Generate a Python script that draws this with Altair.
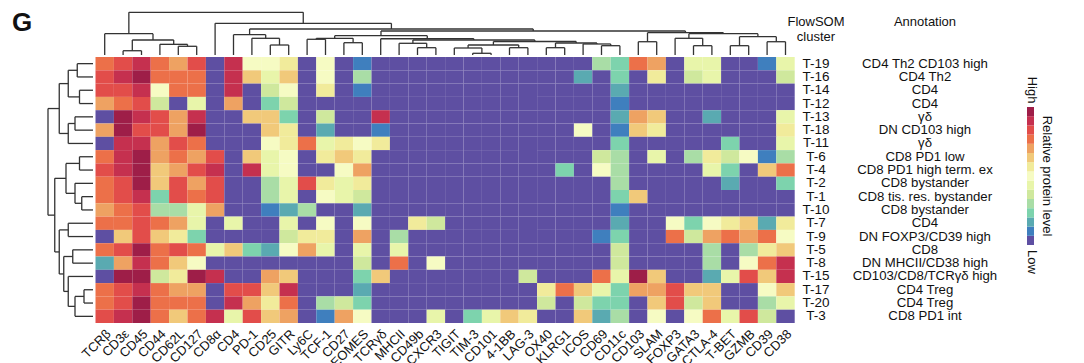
import altair as alt
import pandas as pd

markers = ["TCRβ", "CD3ε", "CD45", "CD44", "CD62L", "CD127", "CD8α", "CD4", "PD-1", "CD25",
           "GITR", "Ly6C", "TCF-1", "CD27", "EOMES", "TCRγδ", "MHCII", "CD49b", "CXCR3", "TIGIT",
           "TIM-3", "CD101", "4-1BB", "LAG-3", "OX40", "KLRG1", "ICOS", "CD69", "CD11c", "CD103",
           "SLAM", "FOXP3", "GATA3", "CTLA-4", "T-BET", "GZMB", "CD39", "CD38"]
clusters = ["T-19", "T-16", "T-14", "T-12", "T-13", "T-18", "T-11", "T-6", "T-4", "T-2",
            "T-1", "T-10", "T-7", "T-9", "T-5", "T-8", "T-15", "T-17", "T-20", "T-3"]
annotations = ["CD4 Th2 CD103 high", "CD4 Th2", "CD4", "CD4", "γδ", "DN CD103 high", "γδ",
               "CD8 PD1 low", "CD8  PD1 high term. ex", "CD8 bystander", "CD8 tis. res. bystander",
               "CD8 bystander", "CD4", "DN FOXP3/CD39 high", "CD8", "DN MHCII/CD38 high",
               "CD103/CD8/TCRγδ high", "CD4 Treg", "CD4 Treg", "CD8 PD1 int"]

# colour steps, low (0) to high (14)
palette = ["#5E4FA2", "#3F7FBE", "#5AAAB1", "#7DD3AD", "#A9DDA6", "#CFE89D", "#E8F5AA",
           "#F6FBC3", "#F1EB9B", "#F1C97A", "#EEA262", "#EC7049", "#E24D4A", "#C5304F", "#9E1E48"]

# relative protein level per cluster (rows) and marker (columns), 0 = low ... 14 = high
levels = [
    [11, 12, 13, 11, 10, 12, 0, 13, 7, 7, 8, 0, 7, 0, 1, 0, 0, 0, 0, 0, 0, 0, 0, 0, 0, 0, 0, 4, 3, 11, 10, 0, 6, 6, 0, 0, 1, 6],
    [12, 13, 14, 11, 11, 11, 0, 13, 9, 6, 9, 0, 7, 0, 4, 0, 0, 0, 0, 0, 0, 0, 0, 0, 0, 0, 2, 0, 3, 0, 8, 0, 5, 6, 0, 0, 0, 5],
    [12, 12, 13, 7, 11, 11, 0, 13, 0, 5, 7, 0, 8, 0, 1, 0, 0, 0, 0, 0, 0, 0, 0, 0, 0, 0, 0, 0, 2, 0, 0, 0, 0, 0, 0, 0, 0, 0],
    [10, 11, 12, 5, 0, 6, 0, 10, 0, 3, 5, 0, 0, 0, 0, 0, 0, 0, 0, 0, 0, 0, 0, 0, 0, 0, 0, 0, 1, 0, 0, 0, 0, 0, 0, 0, 0, 0],
    [0, 14, 13, 12, 10, 13, 0, 0, 9, 9, 3, 0, 5, 0, 0, 13, 0, 0, 0, 0, 0, 0, 0, 0, 0, 0, 0, 0, 2, 10, 9, 0, 0, 2, 0, 0, 0, 6],
    [10, 14, 12, 12, 10, 14, 0, 0, 0, 9, 8, 0, 2, 0, 0, 1, 0, 0, 0, 0, 0, 0, 0, 0, 0, 0, 7, 0, 1, 9, 8, 0, 0, 0, 0, 0, 0, 8],
    [0, 13, 13, 10, 12, 11, 0, 0, 0, 7, 8, 11, 6, 8, 7, 8, 0, 0, 0, 0, 0, 0, 0, 0, 0, 0, 0, 0, 3, 0, 0, 0, 0, 0, 3, 0, 0, 6],
    [11, 13, 14, 10, 11, 10, 12, 0, 9, 6, 7, 0, 8, 9, 8, 0, 0, 0, 0, 0, 0, 0, 0, 0, 0, 0, 0, 5, 4, 0, 6, 0, 4, 8, 5, 7, 1, 4],
    [12, 13, 14, 9, 10, 12, 13, 0, 13, 6, 7, 0, 0, 7, 10, 0, 0, 0, 0, 0, 0, 0, 0, 0, 0, 3, 0, 7, 4, 0, 0, 0, 0, 6, 3, 0, 9, 11],
    [11, 12, 14, 9, 12, 10, 12, 0, 0, 4, 6, 12, 8, 6, 8, 0, 0, 0, 0, 0, 0, 0, 0, 0, 0, 0, 0, 0, 4, 0, 0, 0, 0, 0, 2, 0, 0, 3],
    [11, 12, 13, 3, 12, 11, 12, 0, 0, 4, 6, 0, 7, 6, 5, 0, 0, 0, 0, 0, 0, 0, 0, 0, 0, 0, 0, 0, 3, 9, 0, 0, 0, 0, 0, 0, 0, 0],
    [10, 11, 12, 4, 4, 6, 10, 0, 0, 1, 2, 4, 0, 0, 2, 0, 0, 0, 0, 0, 0, 0, 0, 0, 0, 0, 0, 0, 1, 0, 0, 0, 0, 0, 0, 0, 0, 0],
    [11, 11, 12, 11, 10, 6, 0, 6, 0, 0, 6, 0, 7, 0, 7, 0, 0, 8, 5, 0, 0, 0, 0, 0, 0, 0, 0, 0, 2, 0, 0, 7, 3, 7, 8, 9, 2, 8],
    [0, 9, 12, 9, 8, 3, 0, 0, 0, 0, 5, 8, 8, 0, 10, 0, 4, 0, 0, 0, 0, 0, 0, 0, 0, 0, 0, 1, 3, 0, 0, 11, 5, 10, 11, 10, 11, 7],
    [11, 12, 14, 11, 12, 11, 6, 9, 3, 2, 7, 10, 6, 0, 6, 0, 6, 0, 0, 0, 0, 0, 0, 0, 0, 0, 0, 0, 5, 0, 0, 0, 0, 4, 0, 4, 8, 9],
    [2, 10, 13, 11, 9, 7, 0, 0, 0, 0, 0, 0, 0, 0, 5, 0, 11, 0, 7, 0, 0, 0, 0, 0, 0, 0, 0, 0, 5, 0, 0, 0, 0, 4, 0, 7, 11, 13],
    [0, 14, 14, 5, 8, 14, 13, 0, 0, 10, 9, 0, 0, 0, 3, 9, 0, 0, 0, 0, 0, 0, 0, 5, 0, 0, 0, 11, 6, 14, 9, 0, 0, 2, 6, 12, 9, 13],
    [11, 12, 13, 11, 10, 10, 0, 12, 12, 9, 13, 0, 0, 0, 2, 0, 0, 0, 0, 0, 0, 0, 0, 0, 8, 11, 9, 6, 3, 10, 10, 12, 9, 9, 0, 0, 7, 9],
    [11, 12, 14, 11, 11, 11, 0, 13, 10, 8, 11, 0, 4, 5, 3, 0, 0, 0, 0, 0, 0, 0, 0, 0, 5, 0, 5, 3, 3, 0, 9, 12, 5, 9, 0, 0, 4, 6],
    [12, 13, 14, 11, 9, 11, 13, 6, 12, 9, 10, 0, 1, 10, 7, 0, 0, 0, 6, 0, 3, 6, 9, 8, 0, 0, 9, 2, 4, 0, 7, 0, 7, 11, 6, 12, 5, 0],
]

# ---------- dendrograms: (left, right, merge height 0..1) ----------
c_left = ("TCRβ", (("CD3ε", "CD45", 0.10), ("CD44", ("CD62L", "CD127", 0.204), 0.25), 0.351), 0.499)
c_cd4 = ("CD4", ("PD-1", ("CD25", "GITR", 0.234), 0.391), 0.475)
c_a = (("Ly6C", "TCF-1", 0.368), ("CD27", "EOMES", 0.288), 0.391)
c_b3 = ("MHCII", ("CD49b", "CXCR3", 0.171), 0.274)
c_b4 = (("TIGIT", ("TIM-3", "CD101", 0.04), 0.164), ("4-1BB", "LAG-3", 0.171), 0.234)
c_b5 = (("OX40", "KLRG1", 0.171), ("ICOS", ("CD69", "CD11c", 0.218), 0.258), 0.281)
c_b = ("TCRγδ", (c_b3, (c_b4, c_b5, 0.316), 0.351), 0.38)
c_z1 = (c_a, c_b, 0.452)
c_z2 = (("CD103", "SLAM", 0.311),
        (("FOXP3", ("GATA3", "CTLA-4", 0.218), 0.391),
         (("T-BET", "GZMB", 0.218), ("CD39", "CD38", 0.311), 0.429), 0.499), 0.522)
col_tree = (c_left, ("CD8α", (c_cd4, (c_z1, c_z2, 0.562), 0.609), 0.742), 1.0)

r_top = ((("T-19", "T-16", 0.35), ("T-14", "T-12", 0.30), 0.55), (("T-13", "T-18", 0.40), "T-11", 0.55), 0.75)
r_mid = (("T-6", "T-4", 0.30), ("T-2", ("T-1", "T-10", 0.25), 0.40), 0.60)
r_bot = (("T-7", "T-9", 0.55), (("T-5", "T-8", 0.45), ("T-15", (("T-17", "T-20", 0.20), "T-3", 0.40), 0.55), 0.65), 0.75)
row_tree = (r_top, (r_mid, r_bot, 0.85), 1.0)


def dendro_segments(tree, order):
    segs = []

    def walk(node):
        if isinstance(node, str):
            return order.index(node) + 0.5, 0.0
        left, right, h = node
        xl, hl = walk(left)
        xr, hr = walk(right)
        segs.append((xl, hl, xl, h))
        segs.append((xr, hr, xr, h))
        segs.append((xl, h, xr, h))
        return (xl + xr) / 2, h

    walk(tree)
    return segs


# ---------- geometry (in cell units) ----------
W, H = 1068, 355
CW, RH = 18.4, 13.3          # cell size in px
X0, Y0 = 87.5, 49.0          # heatmap origin in chart px
XS = alt.Scale(domain=[-X0 / CW, (W - X0) / CW], nice=False, zero=False)
YS = alt.Scale(domain=[-Y0 / RH, (H - Y0) / RH], nice=False, zero=False, reverse=True)
CS = alt.Scale(domain=list(range(len(palette))), range=palette)
FONT = "Liberation Sans"
INK = "#111111"

cells = pd.DataFrame([
    {"x": j, "x2": j + 1, "y": i, "y2": i + 1, "level": v, "marker": markers[j], "cluster": clusters[i]}
    for i, row in enumerate(levels) for j, v in enumerate(row)
])
heat = alt.Chart(cells).mark_rect().encode(
    x=alt.X("x:Q", scale=XS, axis=None), x2="x2:Q",
    y=alt.Y("y:Q", scale=YS, axis=None), y2="y2:Q",
    color=alt.Color("level:Q", scale=CS, legend=None),
)

# top dendrogram (leaves at heatmap top, root near the top edge)
top_leaf, top_root = -2.0 / RH, -(49 - 4.3) / RH
cseg = pd.DataFrame([
    {"x": a, "y": top_leaf + (top_root - top_leaf) * b, "x2": c, "y2": top_leaf + (top_root - top_leaf) * d}
    for a, b, c, d in dendro_segments(col_tree, markers)
])
col_dend = alt.Chart(cseg).mark_rule(color="#333333", strokeWidth=1.3).encode(
    x=alt.X("x:Q", scale=XS, axis=None), x2="x2:Q",
    y=alt.Y("y:Q", scale=YS, axis=None), y2="y2:Q")

# left dendrogram
left_leaf, left_root = -2.5 / CW, -(87.5 - 40) / CW
rseg = pd.DataFrame([
    {"y": a, "x": left_leaf + (left_root - left_leaf) * b, "y2": c, "x2": left_leaf + (left_root - left_leaf) * d}
    for a, b, c, d in dendro_segments(row_tree, clusters)
])
row_dend = alt.Chart(rseg).mark_rule(color="#333333", strokeWidth=1.3).encode(
    x=alt.X("x:Q", scale=XS, axis=None), x2="x2:Q",
    y=alt.Y("y:Q", scale=YS, axis=None), y2="y2:Q")

# column labels
clab = pd.DataFrame({"x": [j + 0.5 + 4.0 / CW for j in range(len(markers))], "t": markers})
col_labels = alt.Chart(clab).mark_text(angle=315, align="right", baseline="middle",
                                        font=FONT, fontSize=13, color=INK).encode(
    x=alt.X("x:Q", scale=XS, axis=None), y=alt.value(Y0 + 20 * RH + 9), text="t:N")

rlab = pd.DataFrame({"y": [i + 0.5 for i in range(len(clusters))], "c": clusters, "a": annotations})
row_labels = alt.Chart(rlab).mark_text(align="center", baseline="middle", font=FONT,
                                        fontSize=13.5, color=INK).encode(
    y=alt.Y("y:Q", scale=YS, axis=None), x=alt.value(808), text="c:N")
ann_labels = alt.Chart(rlab).mark_text(align="center", baseline="middle", font=FONT,
                                        fontSize=13.2, color=INK).encode(
    y=alt.Y("y:Q", scale=YS, axis=None), x=alt.value(917), text="a:N")


def label(txt, px, py, size=13, **kw):
    return alt.Chart(pd.DataFrame({"t": [txt]})).mark_text(
        font=FONT, fontSize=size, color=INK, baseline="middle", **kw
    ).encode(x=alt.value(px), y=alt.value(py), text="t:N")


headers = [
    label("FlowSOM", 808, 14, align="center"),
    label("cluster", 808, 29, align="center"),
    label("Annotation", 917, 14, align="center"),
    label("G", 14, 15, size=26, align="center", fontWeight="bold"),
    label("High", 1024, 82, angle=90, align="center"),
    label("Low", 1024, 254, angle=90, align="center"),
    label("Relative protein level", 1039, 168, angle=90, align="center"),
]

# colour bar
bar_top, bar_bot = (99 - Y0) / RH, (237 - Y0) / RH
n = len(palette)
step = (bar_bot - bar_top) / n
bar = pd.DataFrame([
    {"level": k, "y": bar_top + (n - 1 - k) * step, "y2": bar_top + (n - k) * step}
    for k in range(n)
])
colorbar = alt.Chart(bar).mark_rect().encode(
    x=alt.value(1019), x2=alt.value(1026),
    y=alt.Y("y:Q", scale=YS, axis=None), y2="y2:Q",
    color=alt.Color("level:Q", scale=CS, legend=None))

chart = alt.layer(heat, col_dend, row_dend, col_labels, row_labels, ann_labels, colorbar, *headers).properties(
    width=W, height=H, padding=0, autosize=alt.AutoSizeParams(type="none")
).configure_view(stroke=None)

chart.save("out.html", embed_options={"renderer": "svg", "actions": False})
